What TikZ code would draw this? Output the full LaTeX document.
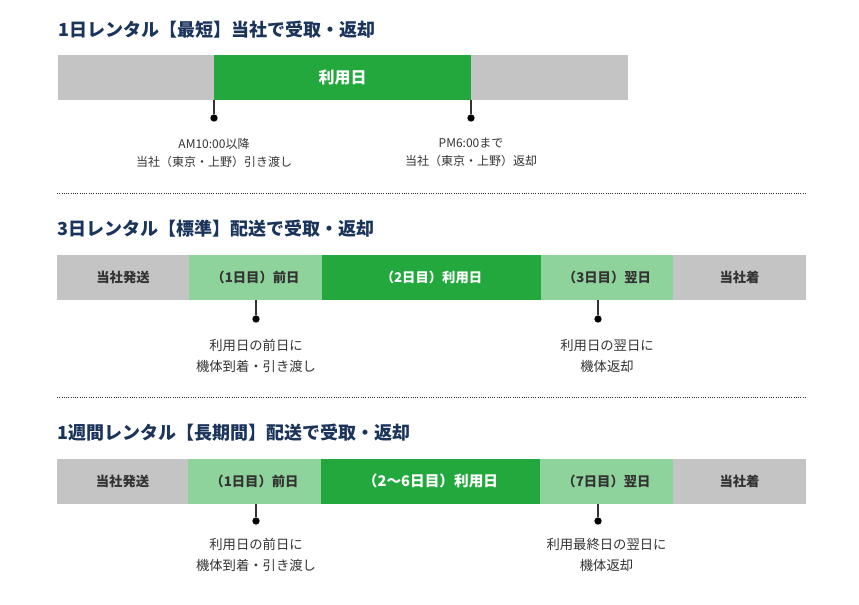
\documentclass[tikz,border=0pt]{standalone}
\usepackage{fontspec}
\setmainfont{Noto Sans CJK JP}
\usetikzlibrary{positioning}
\definecolor{ttlnavy}{RGB}{27,52,92}
\definecolor{usegreen}{RGB}{34,168,60}
\definecolor{daygreen}{RGB}{143,211,156}
\definecolor{shipgray}{RGB}{196,196,196}
\definecolor{txtgray}{RGB}{51,51,51}
\begin{document}
\begin{tikzpicture}[x=0.75pt, y=-0.75pt,
	title/.style={anchor=west, inner sep=0pt, text=ttlnavy, font=\bfseries\fontsize{13.5}{15}\selectfont},
	seg/.style={minimum height=33.75pt, inner sep=0pt, outer sep=0pt, text=txtgray, font=\bfseries\fontsize{10}{12}\selectfont},
	ship/.style={seg, fill=shipgray},
	day/.style={seg, fill=daygreen},
	use/.style={seg, fill=usegreen, text=white},
	stem/.style={draw=txtgray, line width=0.9pt},
	dot/.style={circle, fill=black, inner sep=0pt, minimum size=5.5pt},
	note/.style={align=center, inner sep=0pt, text=txtgray},
	sep/.style={densely dotted, line width=0.7pt, black!80}
	]
	\useasboundingbox (0,0) rectangle (859,604);

	% 1 day rental
	\node [title] (t1) at (58,30) {1日レンタル【最短】当社で受取・返却};
	\node [ship, minimum width=117pt, anchor=west] (a1) at (58,77.5) {};
	\node [use, minimum width=192.75pt, right=0pt of a1, font=\bfseries\fontsize{12}{14}\selectfont] (a2) {利用日};
	\node [ship, minimum width=117.75pt, right=0pt of a2] (a3) {};
	\node [dot] (ad1) at (214,118) {};
	\node [dot] (ad2) at (471,118) {};
	\draw [stem] (a2.south west) -- (ad1);
	\draw [stem] (a2.south east) -- (ad2);
	\node [note, below=12pt of ad1, font=\fontsize{9}{13.5}\selectfont] (an1) {AM10:00以降\\当社（東京・上野）引き渡し};
	\node [note, below=12pt of ad2, font=\fontsize{9}{13.5}\selectfont] (an2) {PM6:00まで\\当社（東京・上野）返却};

	\coordinate (s1l) at (57,193);
	\coordinate (s1r) at (806,193);
	\draw [sep] (s1l) -- (s1r);

	% 3 day rental
	\node [title] (t2) at (57,229) {3日レンタル【標準】配送で受取・返却};
	\node [ship, minimum width=99pt, anchor=west] (b1) at (57,277.5) {当社発送};
	\node [day, minimum width=99.75pt, right=0pt of b1] (b2) {（1日目）前日};
	\node [use, minimum width=164.25pt, right=0pt of b2] (b3) {（2日目）利用日};
	\node [day, minimum width=99pt, right=0pt of b3] (b4) {（3日目）翌日};
	\node [ship, minimum width=99.75pt, right=0pt of b4] (b5) {当社着};
	\node [dot] (bd1) at (256,319) {};
	\node [dot] (bd2) at (598,319) {};
	\draw [stem] (bd1 |- b2.south) -- (bd1);
	\draw [stem] (bd2 |- b4.south) -- (bd2);
	\coordinate (bn2top) at (b4.south |- bd2.south);
	\node [note, below=12pt of bd1, font=\fontsize{10}{15.75}\selectfont] (bn1) {利用日の前日に\\機体到着・引き渡し};
	\node [note, below=12pt of bn2top, font=\fontsize{10}{15.75}\selectfont] (bn2) {利用日の翌日に\\機体返却};

	\coordinate (s2l) at (57,397);
	\coordinate (s2r) at (806,397);
	\draw [sep] (s2l) -- (s2r);

	% 1 week rental
	\node [title] (t3) at (57,433) {1週間レンタル【長期間】配送で受取・返却};
	\node [ship, minimum width=98.25pt, anchor=west] (c1) at (57,481) {当社発送};
	\node [day, minimum width=99.75pt, right=0pt of c1] (c2) {（1日目）前日};
	\node [use, minimum width=164.25pt, right=0pt of c2, font=\bfseries\fontsize{11}{13}\selectfont] (c3) {（2〜6日目）利用日};
	\node [day, minimum width=99.75pt, right=0pt of c3] (c4) {（7日目）翌日};
	\node [ship, minimum width=99.75pt, right=0pt of c4] (c5) {当社着};
	\node [dot] (cd1) at (256,521) {};
	\node [dot] (cd2) at (598,521) {};
	\draw [stem] (cd1 |- c2.south) -- (cd1);
	\draw [stem] (cd2 |- c4.south) -- (cd2);
	\coordinate (cn2top) at (c4.south |- cd2.south);
	\node [note, below=10pt of cd1, font=\fontsize{10}{15.75}\selectfont] (cn1) {利用日の前日に\\機体到着・引き渡し};
	\node [note, below=10pt of cn2top, font=\fontsize{10}{15.75}\selectfont] (cn2) {利用最終日の翌日に\\機体返却};
\end{tikzpicture}
\end{document}
